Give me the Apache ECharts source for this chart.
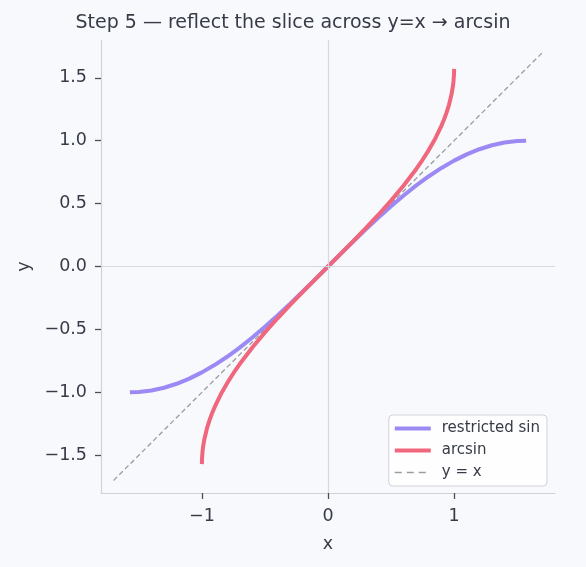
<!DOCTYPE html>
<html>
<head>
<meta charset="utf-8">
<script src="https://cdn.jsdelivr.net/npm/echarts@6/dist/echarts.min.js"></script>
<style>
  html, body { margin: 0; padding: 0; background: #f8f9fc; }
  #chart { width: 586px; height: 567px; }
</style>
</head>
<body>
<div id="chart"></div>
<script>
// restricted sin on [-pi/2, pi/2]
var sinX = [-1.5708, -1.5, -1.4, -1.3, -1.2, -1.1, -1.0, -0.9, -0.8, -0.7, -0.6, -0.5, -0.4, -0.3, -0.2, -0.1,
  0, 0.1, 0.2, 0.3, 0.4, 0.5, 0.6, 0.7, 0.8, 0.9, 1.0, 1.1, 1.2, 1.3, 1.4, 1.5, 1.5708];
var sinY = [-1.0, -0.9975, -0.9854, -0.9636, -0.9320, -0.8912, -0.8415, -0.7833, -0.7174, -0.6442, -0.5646, -0.4794, -0.3894, -0.2955, -0.1987, -0.0998,
  0, 0.0998, 0.1987, 0.2955, 0.3894, 0.4794, 0.5646, 0.6442, 0.7174, 0.7833, 0.8415, 0.8912, 0.9320, 0.9636, 0.9854, 0.9975, 1.0];

// arcsin on [-1, 1]
var asinX = [-1, -0.999, -0.995, -0.99, -0.98, -0.96, -0.94, -0.92, -0.9, -0.85, -0.8, -0.75, -0.7, -0.6, -0.5, -0.4, -0.3, -0.2, -0.1,
  0, 0.1, 0.2, 0.3, 0.4, 0.5, 0.6, 0.7, 0.75, 0.8, 0.85, 0.9, 0.92, 0.94, 0.96, 0.98, 0.99, 0.995, 0.999, 1];
var asinY = [-1.5708, -1.5261, -1.4708, -1.4293, -1.3705, -1.2870, -1.2227, -1.1681, -1.1198, -1.0160, -0.9273, -0.8481, -0.7754, -0.6435, -0.5236, -0.4115, -0.3047, -0.2014, -0.1002,
  0, 0.1002, 0.2014, 0.3047, 0.4115, 0.5236, 0.6435, 0.7754, 0.8481, 0.9273, 1.0160, 1.1198, 1.1681, 1.2227, 1.2870, 1.3705, 1.4293, 1.4708, 1.5261, 1.5708];

// identity line
var idX = [-1.7, 1.7];
var idY = [-1.7, 1.7];

var xTicks = [-1, 0, 1];
var yTicks = [-1.5, -1.0, -0.5, 0.0, 0.5, 1.0, 1.5];

function zip(xs, ys) {
  return xs.map(function (x, i) { return [x, ys[i]]; });
}
function minus(s) { return String(s).replace('-', '\u2212'); }

var font = 'DejaVu Sans';
var textColor = '#363b47';
var sinColor = '#9c89f4';
var asinColor = '#f0677d';
var idColor = '#969ea0';
var myChart = echarts.init(document.getElementById('chart'), null, { width: 586, height: 567 });

myChart.setOption({
  backgroundColor: '#f8f9fc',
  animation: false,
  title: {
    text: 'Step 5 \u2014 reflect the slice across y=x \u2192 arcsin',
    left: 'center',
    top: 9,
    textStyle: { fontFamily: font, fontSize: 19, fontWeight: 'normal', color: textColor }
  },
  grid: { left: 101, right: 31, top: 40, bottom: 74, containLabel: false },
  legend: {
    orient: 'vertical',
    right: 39,
    bottom: 81,
    padding: [6, 7, 6, 4],
    itemWidth: 36,
    itemHeight: 14,
    itemGap: 7,
    backgroundColor: 'rgba(255,255,255,0.85)',
    borderColor: '#cfd3d8',
    borderWidth: 1,
    borderRadius: 4,
    itemStyle: { opacity: 0 },
    textStyle: { fontFamily: font, fontSize: 15, color: textColor, padding: [0, 0, 0, 6] },
    data: [
      { name: 'restricted sin', lineStyle: { width: 4, color: sinColor } },
      { name: 'arcsin', lineStyle: { width: 4, color: asinColor } },
      { name: 'y = x', lineStyle: { width: 1.6, color: idColor, type: [7, 5] } }
    ]
  },
  xAxis: {
    type: 'value',
    min: -1.8,
    max: 1.8,
    name: 'x',
    nameLocation: 'middle',
    nameGap: 42,
    nameTextStyle: { fontFamily: font, fontSize: 17.5, color: textColor },
    axisLine: { onZero: false, lineStyle: { color: '#cfd3d8', width: 1.2 } },
    axisTick: { show: true, length: 6, customValues: xTicks, lineStyle: { color: '#4a4f5a', width: 1.3 } },
    axisLabel: {
      customValues: xTicks, margin: 14,
      fontFamily: font, fontSize: 17.5, color: textColor,
      formatter: function (v) { return minus(v); }
    },
    splitLine: { show: false }
  },
  yAxis: {
    type: 'value',
    min: -1.8,
    max: 1.8,
    name: 'y',
    nameLocation: 'middle',
    nameGap: 68,
    nameTextStyle: { fontFamily: font, fontSize: 17.5, color: textColor },
    axisLine: { onZero: false, lineStyle: { color: '#cfd3d8', width: 1.2 } },
    axisTick: { show: true, length: 6, customValues: yTicks, lineStyle: { color: '#4a4f5a', width: 1.3 } },
    axisLabel: {
      customValues: yTicks, margin: 14,
      fontFamily: font, fontSize: 17.5, color: textColor,
      formatter: function (v) { return minus(v.toFixed(1)); }
    },
    splitLine: { show: false }
  },
  series: [
    {
      name: 'restricted sin',
      type: 'line',
      data: zip(sinX, sinY),
      showSymbol: false,
      symbol: 'none',
      z: 3,
      lineStyle: { color: sinColor, width: 4 },
      itemStyle: { color: sinColor },
      markLine: {
        silent: true,
        symbol: 'none',
        label: { show: false },
        lineStyle: { color: '#d3dae2', width: 1.2, type: 'solid' },
        data: [{ xAxis: 0 }, { yAxis: 0 }]
      }
    },
    {
      name: 'arcsin',
      type: 'line',
      data: zip(asinX, asinY),
      showSymbol: false,
      symbol: 'none',
      z: 4,
      lineStyle: { color: asinColor, width: 4 },
      itemStyle: { color: asinColor }
    },
    {
      name: 'y = x',
      type: 'line',
      data: zip(idX, idY),
      showSymbol: false,
      symbol: 'none',
      z: 2,
      lineStyle: { color: idColor, width: 1.3, type: [5, 3] },
      itemStyle: { color: idColor }
    }
  ]
});
</script>
</body>
</html>
